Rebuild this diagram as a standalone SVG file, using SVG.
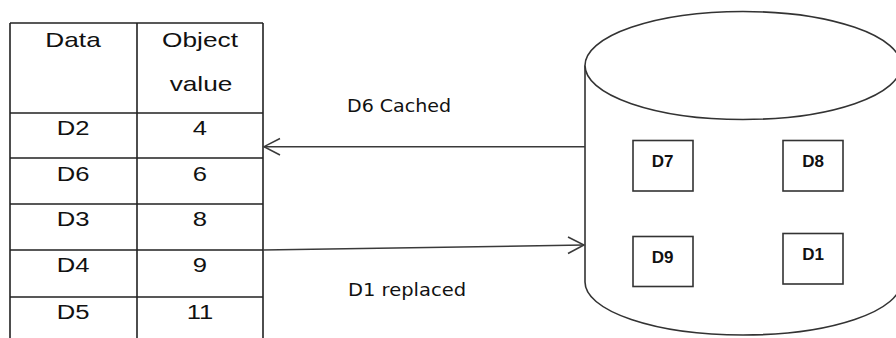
<svg xmlns="http://www.w3.org/2000/svg" width="896" height="338" viewBox="0 0 896 338">
  <style>
    .grid { stroke: #222; stroke-width: 1.6; fill: none; }
    .cell { font-family: "Liberation Sans", Arial, sans-serif; font-size: 21px; fill: #111; text-anchor: middle; }
    .shape { stroke: #333; stroke-width: 1.6; fill: #fff; }
    .box { stroke: #333; stroke-width: 1.6; fill: #fff; }
    .boxtxt { font-family: "Liberation Sans", Arial, sans-serif; font-weight: bold; font-size: 17px; fill: #111; text-anchor: middle; }
    .conn { stroke: #3a3a3a; stroke-width: 1.5; fill: none; }
    .lbl { font-family: "DejaVu Sans", Verdana, sans-serif; font-size: 18px; fill: #111; }
  </style>

  <!-- Cache table -->
  <g id="cache-table">
    <path class="grid" d="M10,23 H263 M10,23 V338 M137,23 V338 M263,23 V338 M10,113 H263 M10,158 H263 M10,204 H263 M10,250 H263 M10,297 H263"/>
    <text class="cell" transform="translate(73,47) scale(1.25,1)">Data</text>
    <text class="cell" transform="translate(200,47) scale(1.25,1)">Object</text>
    <text class="cell" transform="translate(201,91) scale(1.25,1)">value</text>
    <text class="cell" transform="translate(73,135) scale(1.22,1)">D2</text>
    <text class="cell" transform="translate(200,135) scale(1.22,1)">4</text>
    <text class="cell" transform="translate(73,181) scale(1.22,1)">D6</text>
    <text class="cell" transform="translate(200,181) scale(1.22,1)">6</text>
    <text class="cell" transform="translate(73,226) scale(1.22,1)">D3</text>
    <text class="cell" transform="translate(200,226) scale(1.22,1)">8</text>
    <text class="cell" transform="translate(73,272) scale(1.22,1)">D4</text>
    <text class="cell" transform="translate(200,272) scale(1.22,1)">9</text>
    <text class="cell" transform="translate(73,319) scale(1.22,1)">D5</text>
    <text class="cell" transform="translate(200,319) scale(1.22,1)">11</text>
  </g>

  <!-- Storage cylinder -->
  <g id="storage">
    <path class="shape" d="M585,65.5 V282 A158,53 0 0 0 901,282 V65.5"/>
    <ellipse class="shape" cx="743" cy="65.5" rx="158" ry="54"/>
  </g>

  <g id="node-d7">
    <rect class="box" x="633" y="140.5" width="60" height="50.5"/>
    <text class="boxtxt" x="662.5" y="167">D7</text>
  </g>
  <g id="node-d8">
    <rect class="box" x="783" y="140.5" width="60" height="50.5"/>
    <text class="boxtxt" x="813" y="167">D8</text>
  </g>
  <g id="node-d9">
    <rect class="box" x="633" y="236.5" width="60" height="50"/>
    <text class="boxtxt" x="662.5" y="263">D9</text>
  </g>
  <g id="node-d1">
    <rect class="box" x="783" y="233.5" width="60" height="50.5"/>
    <text class="boxtxt" x="813" y="259.5">D1</text>
  </g>

  <!-- Connectors -->
  <g id="connectors">
    <path class="conn" d="M585,146.7 H264"/>
    <path class="conn" d="M280,138.5 L264,146.7 L280,155"/>
    <path class="conn" d="M263,250 L584,245"/>
    <path class="conn" d="M568,237 L584,245 L568,253.5"/>
    <text class="lbl" x="347" y="112" textLength="104" lengthAdjust="spacingAndGlyphs">D6 Cached</text>
    <text class="lbl" x="348" y="296" textLength="118" lengthAdjust="spacingAndGlyphs">D1 replaced</text>
  </g>
</svg>
